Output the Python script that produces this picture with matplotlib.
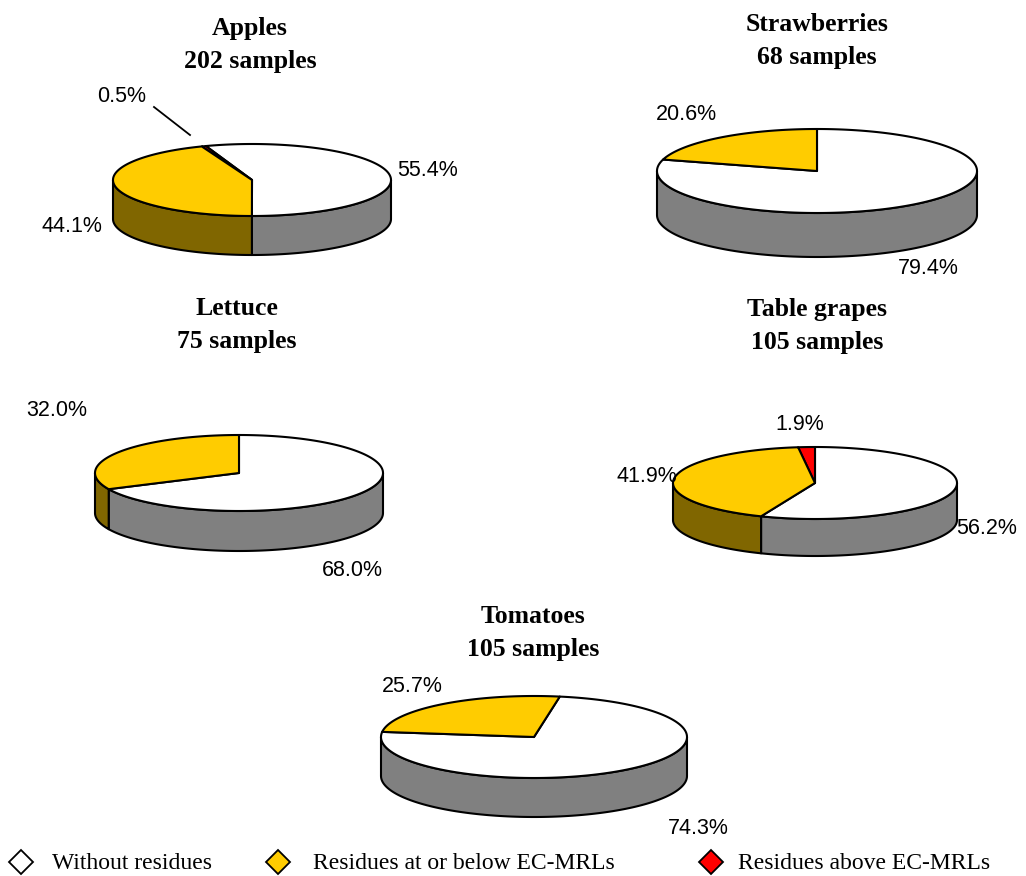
import numpy as np
import matplotlib.pyplot as plt
from matplotlib.patches import Polygon

# Share of samples (%) per crop
crops = ["Apples", "Strawberries", "Lettuce", "Table grapes", "Tomatoes"]
samples = [202, 68, 75, 105, 105]
without_residues = [55.4, 79.4, 68.0, 56.2, 74.3]
above_mrl = [0.5, 0.0, 0.0, 1.9, 0.0]
at_or_below_mrl = [44.1, 20.6, 32.0, 41.9, 25.7]

series_names = ["Without residues", "Residues at or below EC-MRLs",
                "Residues above EC-MRLs"]

top_colors = ["#FFFFFF", "#FF0000", "#FFCC00"]     # white, red, yellow
side_colors = ["#808080", "#800000", "#806600"]

# pie layout in pixels: centre x/y, half-width, half-height, wall depth,
# angle (deg) at which the residue slices begin
pies = [
    dict(cx=252, cy=180, a=139, b=36, d=39, start=109.4),
    dict(cx=817, cy=171, a=160, b=42, d=44, start=90.0),
    dict(cx=239, cy=473, a=144, b=38, d=40, start=90.0),
    dict(cx=815, cy=483, a=142, b=36, d=37, start=90.0),
    dict(cx=534, cy=737, a=153, b=41, d=39, start=80.3),
]
# baseline of the first title line
title_pos = [(250, 35), (817, 31), (237, 315), (817, 316), (533, 623)]
# label positions for (without, above, at-or-below)
label_pos = [
    [(428, 171), (122, 97), (72, 226)],
    [(928, 269), None, (686, 114)],
    [(352, 571), None, (57, 411)],
    [(987, 528), (800, 425), (647, 476)],
    [(698, 829), None, (412, 686)],
]

W, H = 1026, 876
fig = plt.figure(figsize=(W / 100, H / 100), dpi=100)
ax = fig.add_axes([0, 0, 1, 1])
ax.set_xlim(0, W)
ax.set_ylim(H, 0)
ax.axis("off")

LW = 1.5


def ell(p, theta, drop=0.0):
    t = np.radians(theta)
    return np.column_stack([p["cx"] + p["a"] * np.cos(t),
                            p["cy"] - p["b"] * np.sin(t) + drop])


def draw_pie(p, fracs):
    w, r, y = fracs
    t0 = p["start"] - 3.6 * w
    bounds = [(t0, p["start"]),
              (p["start"], p["start"] + 3.6 * r),
              (p["start"] + 3.6 * r, t0 + 360)]
    # outer walls on the front half of the cylinder
    for (ta, tb), val, col in zip(bounds, fracs, side_colors):
        if val <= 0:
            continue
        for k in range(-2, 3):
            lo = max(ta, 180 + 360 * k)
            hi = min(tb, 360 + 360 * k)
            if hi - lo <= 0:
                continue
            th = np.linspace(lo, hi, 120)
            top = ell(p, th)
            bot = ell(p, th[::-1], p["d"])
            ax.add_patch(Polygon(np.vstack([top, bot]), closed=True,
                                 facecolor=col, edgecolor="black", lw=LW,
                                 joinstyle="round", zorder=1))
    # top faces
    for (ta, tb), val, col in zip(bounds, fracs, top_colors):
        if val <= 0:
            continue
        th = np.linspace(ta, tb, max(int(abs(tb - ta)) * 2, 4))
        pts = np.vstack([[p["cx"], p["cy"]], ell(p, th)])
        ax.add_patch(Polygon(pts, closed=True, facecolor=col,
                             edgecolor="black", lw=LW, joinstyle="round",
                             zorder=2))


for i, crop in enumerate(crops):
    fracs = (without_residues[i], above_mrl[i], at_or_below_mrl[i])
    draw_pie(pies[i], fracs)
    tx, ty = title_pos[i]
    ax.text(tx, ty, crop, ha="center", va="baseline", fontsize=18.5,
            fontweight="bold", family="Liberation Serif")
    ax.text(tx, ty + 33, f"{samples[i]} samples", ha="center",
            va="baseline", fontsize=18.5, fontweight="bold",
            family="Liberation Serif")
    for val, pos in zip(fracs, label_pos[i]):
        if val <= 0 or pos is None:
            continue
        ax.text(pos[0], pos[1], f"{val:.1f}%", ha="center", va="center",
                fontsize=15.5, family="Liberation Sans")

# leader line for the thin apples slice
ax.plot([154, 190], [107, 135], color="black", lw=1.3)

# legend
legend_x = [(21, 52), (278, 313), (711, 738)]
legend_colors = [top_colors[0], top_colors[2], top_colors[1]]
for (mx, tx), name, col in zip(legend_x, series_names, legend_colors):
    ax.plot(mx, 862, marker="D", ms=12, mfc=col, mec="black", mew=1.3,
            ls="none")
    ax.text(tx, 869, name, ha="left", va="baseline",
            fontsize=17, family="Liberation Serif")

fig.savefig("out.png", dpi=100)
